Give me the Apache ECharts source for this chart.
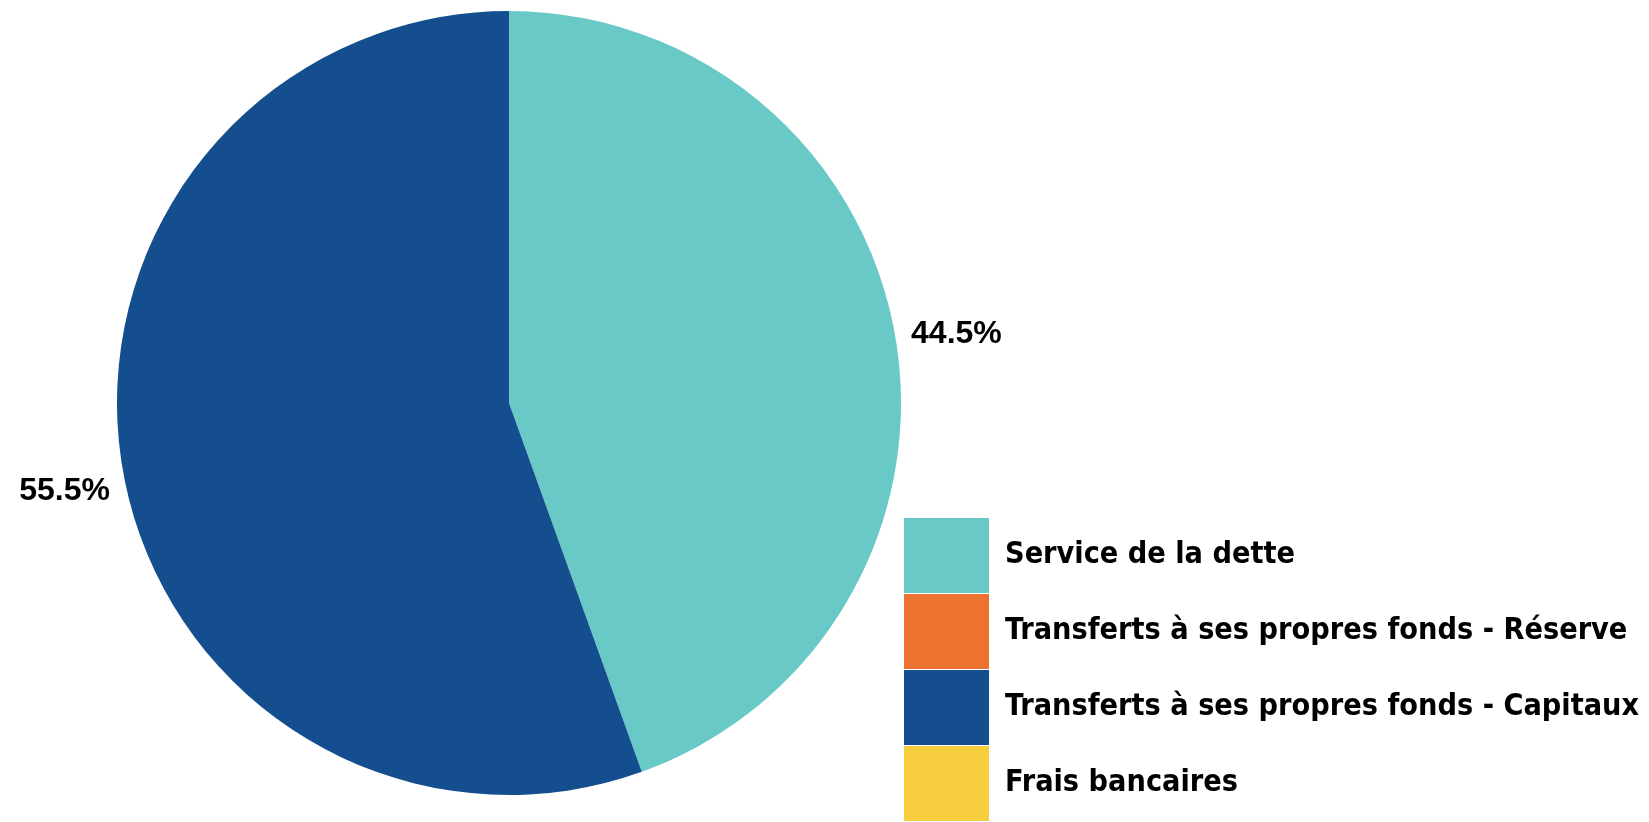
<!DOCTYPE html>
<html>
<head>
<meta charset="utf-8">
<script src="https://cdn.jsdelivr.net/npm/echarts@6/dist/echarts.min.js"></script>
<style>
  html, body { margin: 0; padding: 0; background: #fff; }
  #chart { width: 1649px; height: 822px; }
</style>
</head>
<body>
<div id="chart"></div>
<script>
// catégories et parts (%)
const categories = [
  'Service de la dette',
  'Transferts à ses propres fonds - Réserve',
  'Transferts à ses propres fonds - Capitaux',
  'Frais bancaires'
]
const shares = [44.5, 0, 55.5, 0]
const colors = ['#68c9c7', '#ec7230', '#144e8e', '#f5cd3d']
// petit décalage des étiquettes (px)
const labelOffsets = [[3, 0], [0, 0], [0, 19], [0, 0]]

const myEcharts = echarts.init(document.getElementById('chart'))

const option = {
  animation: false,
  color: colors,
  legend: {
    orient: 'vertical',
    left: 904,
    top: 518,
    padding: 0,
    itemWidth: 85,
    itemHeight: 75,
    itemGap: 1,
    icon: 'rect',
    selectedMode: false,
    data: categories,
    textStyle: {
      fontFamily: '"DejaVu Sans Condensed", "DejaVu Sans", sans-serif',
      fontWeight: 'bold',
      fontSize: 30.3,
      color: '#000',
      padding: [0, 0, 0, 11]
    }
  },
  series: [
    {
      type: 'pie',
      center: [509, 403],
      radius: 392,
      startAngle: 90,
      clockwise: true,
      itemStyle: { borderWidth: 0 },
      label: {
        show: true,
        position: 'outside',
        formatter: (p) => p.value.toFixed(1) + '%',
        fontFamily: '"Liberation Sans", Arial, sans-serif',
        fontWeight: 'bold',
        fontSize: 32,
        color: '#000'
      },
      labelLine: { show: false, length: 8, length2: 0 },
      data: categories.map((name, i) => ({
        name: name,
        value: shares[i],
        label: { show: shares[i] > 0, offset: labelOffsets[i] }
      }))
    }
  ]
}

myEcharts.setOption(option)
</script>
</body>
</html>
